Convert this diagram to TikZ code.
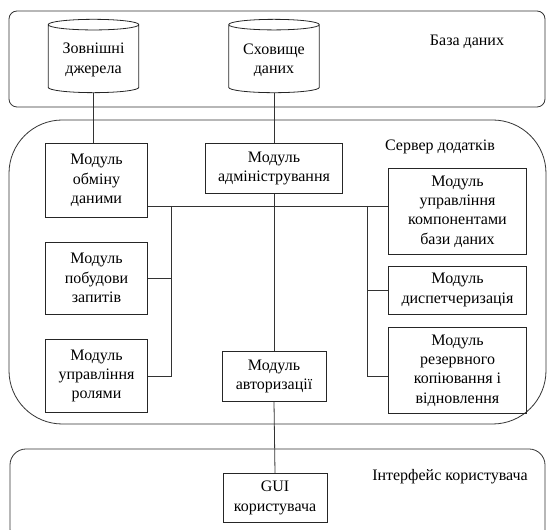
\documentclass[tikz,border=0pt]{standalone}
\usepackage{fontspec}
\setmainfont{Liberation Serif}
\newfontfamily\tekst{Liberation Serif}
\usetikzlibrary{shapes.geometric}
\tikzset{
	ramka/.style={draw=black!80,line width=0.6pt},
	modul/.style={draw=black!85,line width=0.6pt,align=center,inner sep=2pt,font=\tekst\fontsize{12}{14.5}\selectfont},
	bd/.style={draw=black!85,line width=0.6pt,shape=cylinder,shape border rotate=90,aspect=0.15,align=center,font=\tekst\fontsize{12}{14.5}\selectfont},
	zvjazok/.style={draw=black!80,line width=0.6pt},
	pidpys/.style={font=\tekst\fontsize{12}{14.5}\selectfont}
}
\begin{document}
\begin{tikzpicture}[x=0.75pt,y=-0.75pt]
				\useasboundingbox (0,0) rectangle (547,530);
				\clip (0,0) rectangle (547,530);
				% Schichten
				\draw[ramka,rounded corners=6] (9,11) rectangle (545,107);
				\draw[ramka,rounded corners=40] (9,120) rectangle (546,424);
				\draw[ramka,rounded corners=12] (10,449) rectangle (545,545);
				\node[pidpys] (bdlabel) at (467,42) {База даних};
				\node[pidpys] (srvlabel) at (440,147) {Сервер додатків};
				\node[pidpys] (uilabel) at (450,477) {Інтерфейс користувача};
				% Datenbanken
				\node[bd,minimum width=68pt,minimum height=55pt] (dzherela) at (93.5,60) {Зовнішні\\джерела};
				\node[bd,minimum width=68pt,minimum height=55pt] (skhovyshche) at (274,60) {Сховище\\даних};
				% Module
				\node[modul,minimum width=77pt,minimum height=55pt] (obmin) at (96.5,180.5) {Модуль\\обміну\\даними};
				\node[modul,minimum width=77pt,minimum height=54pt] (zapyty) at (96.5,278) {Модуль\\побудови\\запитів};
				\node[modul,minimum width=77pt,minimum height=55pt] (roli) at (96.5,376) {Модуль\\управління\\ролями};
				\node[modul,minimum width=103pt,minimum height=37pt] (admin) at (274,168.5) {Модуль\\адміністрування};
				\node[modul,minimum width=78pt,minimum height=37pt] (avtor) at (274,376.5) {Модуль\\авторизації};
				\node[modul,minimum width=78pt,minimum height=37pt] (gui) at (275,498) {GUI\\користувача};
				\node[modul,minimum width=104pt,minimum height=64pt] (kompon) at (457.5,211.5) {Модуль\\управління\\компонентами\\бази даних};
				\node[modul,minimum width=104pt,minimum height=36pt] (dysp) at (457.5,290) {Модуль\\диспетчеризація};
				\node[modul,minimum width=104pt,minimum height=64pt] (rezerv) at (457.5,370.5) {Модуль\\резервного\\копіювання і\\відновлення};
				% Verbindungen
				\coordinate (busL) at (171,206);
				\coordinate (busR) at (367,206);
				\draw[zvjazok] (dzherela.south) to (dzherela.south |- obmin.north);
				\draw[zvjazok] (skhovyshche.south) to (admin.north);
				\draw[zvjazok] (admin.south) to (avtor.north);
				\draw[zvjazok] (avtor.south) to (gui.north);
				\draw[zvjazok] (obmin.east |- busL) to (kompon.west |- busR);
				\draw[zvjazok] (busL) to (busL |- roli.east) to (roli.east);
				\draw[zvjazok] (busL |- zapyty.east) to (zapyty.east);
				\draw[zvjazok] (busR) to (busR |- roli.east) to (rezerv.west |- roli.east);
				\draw[zvjazok] (busR |- dysp.west) to (dysp.west);
\end{tikzpicture}
\end{document}
